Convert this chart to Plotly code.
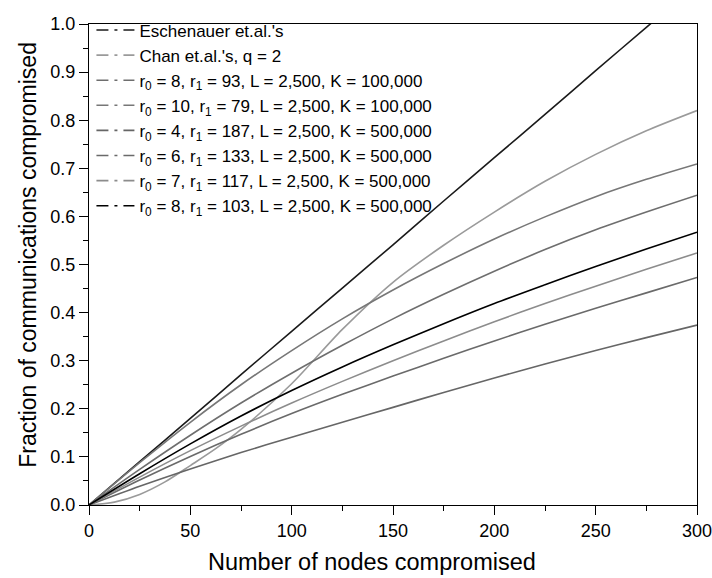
import plotly.graph_objects as go

x_nodes = [0, 25, 50, 75, 100, 125, 150, 175, 200, 225, 250, 275, 300]
x_chan = [0, 12.5, 25, 37.5, 50, 62.5, 75, 100, 125, 150, 175, 200, 225, 250, 275, 300]

eschenauer = [0, 0.090, 0.180, 0.271, 0.361, 0.451, 0.541, 0.632, 0.722, 0.812, 0.903, 0.993, 1.083]
chan_q2 = [0, 0.006, 0.022, 0.048, 0.082, 0.117, 0.157, 0.252, 0.365, 0.463, 0.540, 0.609, 0.673, 0.729, 0.778, 0.820]
r8_93_k100 = [0, 0.074, 0.145, 0.212, 0.274, 0.332, 0.387, 0.438, 0.486, 0.531, 0.572, 0.609, 0.644]
r10_79_k100 = [0, 0.088, 0.172, 0.250, 0.321, 0.387, 0.447, 0.502, 0.553, 0.599, 0.641, 0.677, 0.709]
r4_187_k500 = [0, 0.039, 0.075, 0.109, 0.141, 0.172, 0.203, 0.234, 0.264, 0.293, 0.321, 0.348, 0.374]
r6_133_k500 = [0, 0.052, 0.101, 0.147, 0.190, 0.230, 0.268, 0.305, 0.341, 0.376, 0.409, 0.441, 0.473]
r7_117_k500 = [0, 0.058, 0.113, 0.164, 0.212, 0.257, 0.300, 0.341, 0.381, 0.419, 0.455, 0.490, 0.524]
r8_103_k500 = [0, 0.065, 0.127, 0.185, 0.238, 0.287, 0.333, 0.377, 0.419, 0.458, 0.496, 0.532, 0.567]

x_ticks = [0, 50, 100, 150, 200, 250, 300]
y_ticks = [0, 0.1, 0.2, 0.3, 0.4, 0.5, 0.6, 0.7, 0.8, 0.9, 1.0]

series = [
    ("Eschenauer et.al.'s", x_nodes, eschenauer, "#1a1a1a"),
    ("Chan et.al.'s, q = 2", x_chan, chan_q2, "#9a9a9a"),
    ("r<sub>0</sub> = 8, r<sub>1</sub> = 93, L = 2,500, K = 100,000", x_nodes, r8_93_k100, "#6e6e6e"),
    ("r<sub>0</sub> = 10, r<sub>1</sub> = 79, L = 2,500, K = 100,000", x_nodes, r10_79_k100, "#777777"),
    ("r<sub>0</sub> = 4, r<sub>1</sub> = 187, L = 2,500, K = 500,000", x_nodes, r4_187_k500, "#666666"),
    ("r<sub>0</sub> = 6, r<sub>1</sub> = 133, L = 2,500, K = 500,000", x_nodes, r6_133_k500, "#6a6a6a"),
    ("r<sub>0</sub> = 7, r<sub>1</sub> = 117, L = 2,500, K = 500,000", x_nodes, r7_117_k500, "#8c8c8c"),
    ("r<sub>0</sub> = 8, r<sub>1</sub> = 103, L = 2,500, K = 500,000", x_nodes, r8_103_k500, "#000000"),
]

font_family = "Liberation Sans, Arial, sans-serif"

fig = go.Figure()
for i, (name, xs, ys, color) in enumerate(series):
    fig.add_trace(go.Scatter(
        x=xs, y=ys, mode="lines", name=name, legendgroup=str(i),
        line=dict(color=color, width=1.6, shape="spline", smoothing=0.8),
        showlegend=False, hoverinfo="skip",
    ))
    # legend proxy showing the dash-dot style
    fig.add_trace(go.Scatter(
        x=[None], y=[None], mode="lines", name=name, legendgroup=str(i),
        line=dict(color=color, width=1.6, dash="12px,6px,3px,6px"),
        showlegend=True,
    ))

fig.update_layout(
    width=712, height=578,
    margin=dict(l=89, r=15, t=13, b=73),
    paper_bgcolor="white", plot_bgcolor="white",
    font=dict(family=font_family, color="black", size=17),
    showlegend=True,
    legend=dict(x=0.004, y=1.024, xanchor="left", yanchor="top",
                bgcolor="rgba(0,0,0,0)", borderwidth=0,
                font=dict(size=17, family=font_family),
                tracegroupgap=0, itemwidth=38),
    annotations=[
        dict(text="Number of nodes compromised", xref="paper", yref="paper",
             x=(372 - 89) / 608, y=(505 - 563) / 492, xanchor="center", yanchor="middle",
             showarrow=False, font=dict(size=23.5, family=font_family, color="black")),
        dict(text="Fraction of communications compromised", xref="paper", yref="paper",
             x=(28 - 89) / 608, y=(505 - 249) / 492, xanchor="center", yanchor="middle",
             textangle=-90, showarrow=False,
             font=dict(size=23, family=font_family, color="black")),
    ],
)

fig.update_xaxes(
    range=[0, 300], tickvals=x_ticks, automargin=False, ticklabeloverflow="allow",
    ticks="outside", ticklen=9, tickwidth=1, tickcolor="black",
    minor=dict(dtick=25, tick0=0, ticks="outside", ticklen=5, tickcolor="black"),
    showline=True, linecolor="black", linewidth=1, mirror=True,
    showgrid=False, zeroline=False,
    tickfont=dict(size=18),
)
fig.update_yaxes(
    range=[0, 1.0], tickvals=y_ticks, tickformat=".1f", automargin=False,
    ticklabeloverflow="allow",
    ticks="outside", ticklen=9, tickwidth=1, tickcolor="black",
    minor=dict(dtick=0.05, tick0=0, ticks="outside", ticklen=5, tickcolor="black"),
    showline=True, linecolor="black", linewidth=1, mirror=True,
    showgrid=False, zeroline=False,
    tickfont=dict(size=18),
)

fig.write_html(
    "out.html",
    config={"displayModeBar": False},
    post_script="document.body.style.margin='0';document.body.style.overflow='hidden';",
)
